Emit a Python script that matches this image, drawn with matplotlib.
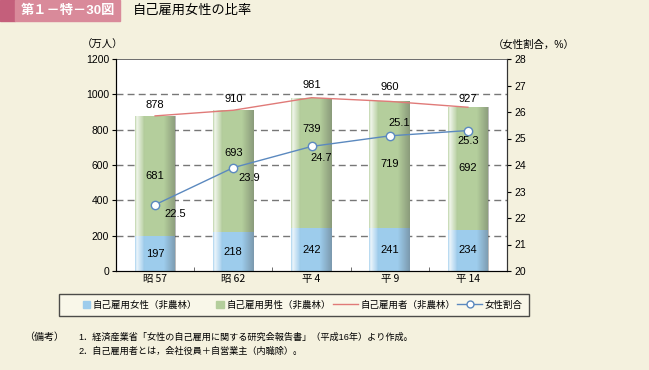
import matplotlib.pyplot as plt
import numpy as np
from matplotlib.patches import Rectangle, Patch
from matplotlib.lines import Line2D
from matplotlib.legend_handler import HandlerPatch

plt.rcParams['font.family'] = ['Liberation Sans', 'Noto Sans CJK JP']

years = ["昭57", "昭62", "平4", "平9", "平14"]
female = [197, 218, 242, 241, 234]
male = [681, 693, 739, 719, 692]
total = [878, 910, 981, 960, 927]
ratio = [22.5, 23.9, 24.7, 25.1, 25.3]

# label nudges (layout only)
male_dy = [0, 104, 193, 5, 3]
total_dy = [62, 63, 71, 81, 46]
ratio_off = [(0.26, -0.35), (0.2, -0.39), (0.13, -0.44), (0.12, 0.48), (0.0, -0.4)]

BG = "#F4F1DE"
BLUE = "#9DCCEC"
GREEN = "#B4CE9C"
RED = "#E07A78"
LINE_BLUE = "#5B89BF"

fig = plt.figure(figsize=(6.49, 3.70), dpi=100)
fig.patch.set_facecolor(BG)
ax = fig.add_axes([116 / 649, 1 - 271 / 370, 391 / 649, 212 / 370])
ax.set_facecolor("white")

x = np.arange(len(years))
w = 0.52
b1 = ax.bar(x, female, width=w, color=BLUE, zorder=2)
b2 = ax.bar(x, male, width=w, bottom=female, color=GREEN, zorder=2)

# cylinder-ish shading: light highlight on the left, darker edge on the right
grad = np.concatenate([[0.3], np.linspace(0.8, 0.0, 7), np.zeros(14), np.linspace(0.0, -0.35, 10)])
for bars in (b1, b2):
    for r in bars:
        x0, y0 = r.get_x(), r.get_y()
        ww, hh = r.get_width(), r.get_height()
        img = np.zeros((1, len(grad), 4))
        img[0, :, :3] = np.where(grad[:, None] > 0, 1.0, 0.25)
        img[0, :, 3] = np.abs(grad)
        im = ax.imshow(img, extent=(x0, x0 + ww, y0, y0 + hh), aspect="auto",
                       interpolation="bilinear", zorder=2.5)
        im.set_clip_path(r)

for i in x:
    ax.text(i, female[i] / 2, str(female[i]), ha="center", va="center", fontsize=8, zorder=5)
    ax.text(i, female[i] + male[i] / 2 + male_dy[i], str(male[i]), ha="center", va="center",
            fontsize=8, zorder=5)
    ax.text(i, total[i] + total_dy[i], str(total[i]), ha="center", va="center", fontsize=8, zorder=5)

ax.plot(x, total, color=RED, lw=1.0, zorder=3)

ax.set_xlim(-0.5, len(years) - 0.5)
ax.set_ylim(0, 1200)
ax.set_yticks(range(0, 1201, 200))
ax.set_xticks(x)
ax.set_xticklabels([y[:-len(y.lstrip('昭平'))] + "\u2009" + y.lstrip('昭平') for y in years],
                   fontsize=7.5, family=['Noto Sans CJK JP', 'DejaVu Sans'])
ax.tick_params(axis="y", labelsize=7.5, length=3, pad=2)
ax.tick_params(axis="x", which="major", length=0, pad=2)
ax.set_xticks(np.arange(0.5, len(years) - 1, 1), minor=True)
ax.tick_params(axis="x", which="minor", length=3, direction="in", color="#555555")
for v in range(200, 1001, 200):
    ax.axhline(v, color="#777777", lw=1.0, ls=(0, (5, 3)), zorder=1)
for s in ("left", "bottom", "right"):
    ax.spines[s].set_color("#333333")
ax.spines["top"].set_color("#555555")
ax.spines["top"].set_linewidth(0.6)

ax2 = ax.twinx()
ax2.set_ylim(20, 28)
ax2.set_yticks(range(20, 29))
ax2.tick_params(axis="y", labelsize=7.5, length=3, pad=2)
ax2.plot(x, ratio, color=LINE_BLUE, lw=1.0, marker="o", ms=6, mfc="white",
         mec=LINE_BLUE, mew=1.0, zorder=4)
for i, (dx, dy) in enumerate(ratio_off):
    ax2.text(i + dx, ratio[i] + dy, f"{ratio[i]}", ha="center", va="center", fontsize=8, zorder=5)
ax2.spines["top"].set_visible(False)
ax2.spines["right"].set_color("#333333")

fig.text(103 / 649, 1 - 45 / 370, "（万人）", ha="center", va="center", fontsize=7.5)
fig.text(534 / 649, 1 - 45 / 370, "（女性割合，%）", ha="center", va="center", fontsize=7.5)

# header banner
fig.patches.append(Rectangle((0, 1 - 21 / 370), 15 / 649, 21 / 370, transform=fig.transFigure,
                             color="#C45F7B", zorder=0))
fig.patches.append(Rectangle((15 / 649, 1 - 21 / 370), 105 / 649, 21 / 370, transform=fig.transFigure,
                             color="#D98A9A", zorder=0))
fig.text(68 / 649, 1 - 11 / 370, "第１－特－30図", ha="center", va="center", fontsize=9.5,
         color="white", fontweight="bold")
fig.text(133 / 649, 1 - 11 / 370, "自己雇用女性の比率", ha="left", va="center", fontsize=9.5)


def square_patch(legend, orig_handle, xdescent, ydescent, width, height, fontsize):
    s = height * 1.1
    return Rectangle((width - s - xdescent, -ydescent + (height - s) / 2), s, s)


handles = [Patch(color=BLUE), Patch(color=GREEN),
           Line2D([], [], color=RED, lw=1.0),
           Line2D([], [], color=LINE_BLUE, lw=1.0, marker="o", ms=5, mfc="white", mec=LINE_BLUE)]
labels = ["自己雇用女性（非農林）", "自己雇用男性（非農林）", "自己雇用者（非農林）", "女性割合"]
leg = fig.legend(handles, labels, loc="center", bbox_to_anchor=(294 / 649, 1 - 305 / 370), ncol=4,
                 fontsize=6.8, frameon=True, fancybox=False, handlelength=2.6, handletextpad=0.3,
                 columnspacing=0.2, borderpad=0.7,
                 handler_map={Patch: HandlerPatch(patch_func=square_patch)})
leg.get_frame().set_edgecolor("#222222")
leg.get_frame().set_facecolor("#FBF9EC")
leg.get_frame().set_linewidth(1.0)

fig.text(24 / 649, 1 - 337 / 370, "（備考）", ha="left", va="center", fontsize=7.2)
fig.text(78 / 649, 1 - 337 / 370, "1．経済産業省「女性の自己雇用に関する研究会報告書」（平成16年）より作成。",
         ha="left", va="center", fontsize=6.6)
fig.text(78 / 649, 1 - 351 / 370, "2．自己雇用者とは，会社役員＋自営業主（内職除）。",
         ha="left", va="center", fontsize=6.6)

fig.savefig("out.png", dpi=100, facecolor=BG)
